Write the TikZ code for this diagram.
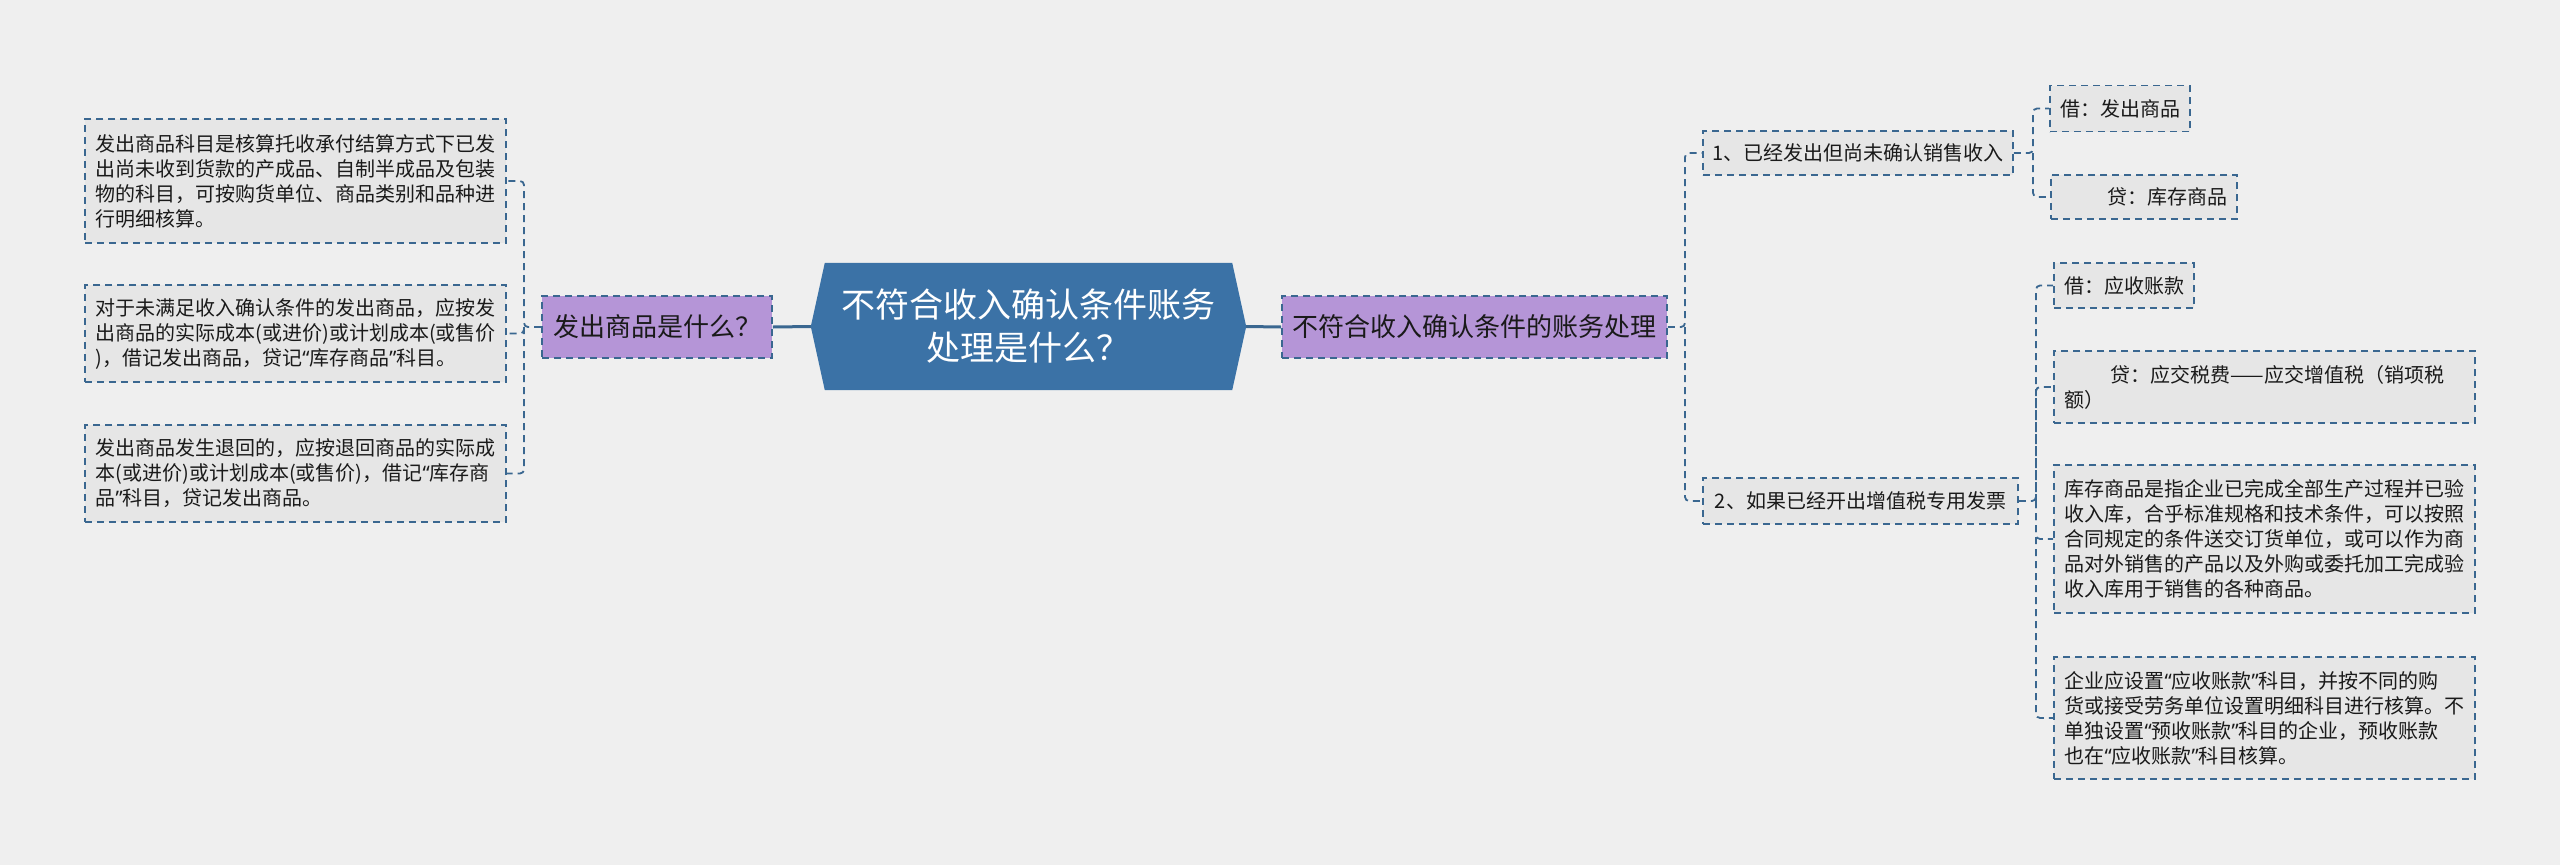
\documentclass[tikz,border=0pt]{standalone}
\usepackage{fontspec}
\setmainfont{Noto Sans CJK SC}
\newfontfamily\cjk{Noto Sans CJK SC}
\newfontfamily\latq{Noto Sans}
\newcommand\qopen{{\latq “}}
\newcommand\qclose{{\latq ”}}
\usetikzlibrary{backgrounds}
\definecolor{bg}{HTML}{EFEFEF}
\definecolor{bd}{HTML}{3A6790}
\definecolor{leaf}{HTML}{E6E6E6}
\definecolor{purp}{HTML}{B595D7}
\definecolor{rootc}{HTML}{3B72A6}
\definecolor{tx}{HTML}{1A1A1A}
\begin{document}
\begin{tikzpicture}[x=1pt,y=-1pt,
  box/.style={draw=bd, line width=1.8pt, dash pattern=on 7pt off 5pt, fill=leaf, text=tx, inner sep=0pt, align=left, anchor=center, font=\cjk},
  big/.style={box, font=\cjk\fontsize{20}{25}\selectfont, text width=400pt},
  mid/.style={box, font=\cjk\fontsize{20}{25}\selectfont},
  pnode/.style={box, fill=purp, font=\cjk\fontsize{26}{30}\selectfont},
  conn/.style={draw=bd, line width=1.8pt, dash pattern=on 7pt off 5pt, rounded corners=4pt},
  main/.style={draw=bd, line width=3pt}
]
\begin{scope}[on background layer]
\fill[bg] (0,0) rectangle (2560,865);
\end{scope}
\useasboundingbox (0,0) rectangle (2560,865);

% root
\node[minimum width=435pt, minimum height=127pt, inner sep=0pt, text=white, align=center,
      font=\cjk\fontsize{34}{43}\selectfont] (root) at (1028.5,326.5)
      {不符合收入确认条件账务\\处理是什么？};
\begin{scope}[on background layer]
\fill[rootc] (root.west) -- ([xshift=14pt]root.north west) -- ([xshift=-14pt]root.north east)
  -- (root.east) -- ([xshift=-14pt]root.south east) -- ([xshift=14pt]root.south west) -- cycle;
\end{scope}

% left side
\node[pnode, minimum width=230pt, minimum height=62pt] (LP) at (657,327) {发出商品是什么？};
\node[big, minimum width=421pt, minimum height=124pt] (L1) at (295.5,181)
 {发出商品科目是核算托收承付结算方式下已发\\出尚未收到货款的产成品、自制半成品及包装\\物的科目，可按购货单位、商品类别和品种进\\行明细核算。};
\node[big, minimum width=421pt, minimum height=97pt] (L2) at (295.5,333.5)
 {对于未满足收入确认条件的发出商品，应按发\\出商品的实际成本(或进价)或计划成本(或售价\\)，借记发出商品，贷记\qopen 库存商品\qclose 科目。};
\node[big, minimum width=421pt, minimum height=97pt] (L3) at (295.5,473.5)
 {发出商品发生退回的，应按退回商品的实际成\\本(或进价)或计划成本(或售价)，借记\qopen 库存商\\品\qclose 科目，贷记发出商品。};

% right side
\node[pnode, minimum width=385pt, minimum height=62pt] (RP) at (1474.5,327) {不符合收入确认条件的账务处理};
\node[mid, minimum width=310pt, minimum height=44pt] (R1) at (1858,153) {1、已经发出但尚未确认销售收入};
\node[mid, minimum width=315pt, minimum height=46pt] (R2) at (1860.5,501) {2、如果已经开出增值税专用发票};
\node[mid, minimum width=140pt, minimum height=46pt] (R1a) at (2120,108.5) {借：发出商品};
\node[mid, minimum width=186pt, minimum height=44pt] (R1b) at (2144,197) {\hspace*{46pt}贷：库存商品};
\node[mid, minimum width=140pt, minimum height=45pt] (R2a) at (2124,285.5) {借：应收账款};
\node[big, minimum width=421pt, minimum height=72pt] (R2b) at (2264.5,387)
 {\hspace*{46pt}贷：应交税费——应交增值税（销项税\\额）};
\node[big, minimum width=421pt, minimum height=148pt] (R2c) at (2264.5,539)
 {库存商品是指企业已完成全部生产过程并已验\\收入库，合乎标准规格和技术条件，可以按照\\合同规定的条件送交订货单位，或可以作为商\\品对外销售的产品以及外购或委托加工完成验\\收入库用于销售的各种商品。};
\node[big, minimum width=421pt, minimum height=122pt] (R2d) at (2264.5,718)
 {企业应设置\qopen 应收账款\qclose 科目，并按不同的购\\货或接受劳务单位设置明细科目进行核算。不\\单独设置\qopen 预收账款\qclose 科目的企业，预收账款\\也在\qopen 应收账款\qclose 科目核算。};

% connectors
\draw[main] (LP.east) -- (root.west);
\draw[main] (root.east) -- (RP.west);

\coordinate (bl) at (524,327);
\draw[conn] (LP.west) -- (bl) |- (L1.east);
\draw[conn] (bl) |- (L2.east);
\draw[conn] (bl) |- (L3.east);

\coordinate (br) at (1685,327);
\draw[conn] (RP.east) -- (br) |- (R1.west);
\draw[conn] (br) |- (R2.west);

\coordinate (b1) at (2033,153);
\draw[conn] (R1.east) -- (b1) |- (R1a.west);
\draw[conn] (b1) |- (R1b.west);

\coordinate (b2) at (2036,501);
\draw[conn] (R2.east) -- (b2) |- (R2a.west);
\draw[conn] (b2) |- (R2b.west);
\draw[conn] (b2) |- (R2c.west);
\draw[conn] (b2) |- (R2d.west);
\end{tikzpicture}
\end{document}
